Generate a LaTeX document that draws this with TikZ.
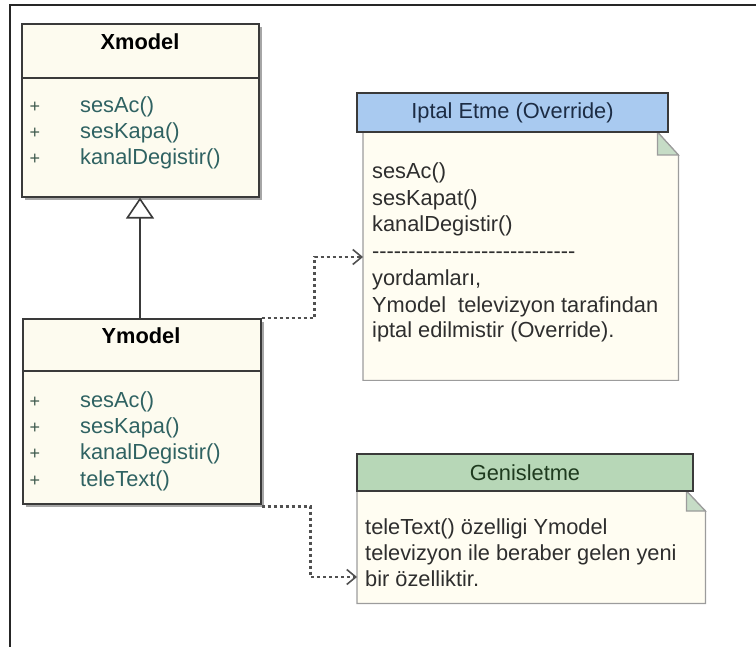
\documentclass[tikz,border=0pt]{standalone}
\usepackage{fontspec}
\setmainfont{Liberation Sans}
\usetikzlibrary{arrows.meta,shadows}

\definecolor{boxfill}{HTML}{FDFBEF}
\definecolor{boxline}{HTML}{3A3A3A}
\definecolor{membtext}{HTML}{2F6262}
\definecolor{plustext}{HTML}{3E5A4E}
\definecolor{notefill}{HTML}{FFFDF2}
\definecolor{noteline}{HTML}{9C9C9C}
\definecolor{notetext}{HTML}{2E2E2E}
\definecolor{bluehead}{HTML}{A9CAF0}
\definecolor{bluetext}{HTML}{1C2C44}
\definecolor{greenhead}{HTML}{B7D7B7}
\definecolor{greentext}{HTML}{1E3A1E}
\definecolor{foldfill}{HTML}{C6DCC6}
\definecolor{depline}{HTML}{505050}

% row of plain hyphens (kerns keep them from joining into dashes)
\newcommand\hyphenrow{\foreach\k in {1,...,28}{-\kern0pt}}

\begin{document}
\begin{tikzpicture}[x=1pt,y=-1pt,
  every node/.style={font=\fontsize{21.8}{26}\selectfont, inner sep=0pt},
  classbox/.style={rectangle, draw=boxline, line width=1.6pt, fill=boxfill,
    anchor=north west,
    drop shadow={shadow xshift=3pt,shadow yshift=-3pt,fill=black!35,opacity=1}},
  classtitle/.style={anchor=base, font=\fontsize{21.8}{26}\selectfont\bfseries},
  plus/.style={anchor=base, text=plustext, font=\fontsize{18}{26}\selectfont},
  member/.style={anchor=base west, text=membtext},
  notearea/.style={rectangle, anchor=north west},
  notebody/.style={draw=noteline, line width=1.2pt, fill=notefill},
  notefold/.style={draw=noteline, line width=1.2pt, fill=foldfill},
  notehead/.style={rectangle, draw=boxline, line width=1.6pt},
  notetxt/.style={anchor=base west, text=notetext},
  dep/.style={draw=depline, line width=2.4pt, dash pattern=on 3pt off 3pt,
    -{Straight Barb[length=9pt,width=15pt,line width=1.6pt]}},
  gen/.style={draw=boxline, line width=1.6pt,
    -{Triangle[open,length=21pt,width=28pt,line width=1.6pt]}}
]
\useasboundingbox (0,0) rectangle (756,647);

% outer frame (top and left edges)
\draw[line width=2.2pt, black!85] (756,5) -- (10,5) -- (10,647);

% ---- class Xmodel ----
\node[classbox, minimum width=237pt, minimum height=173pt] (xmodel) at (21,23) {};
\draw[boxline, line width=1.6pt] (xmodel.west |- 0,78) -- (xmodel.east |- 0,78);
\node[classtitle] (xtitle) at (140,50) {Xmodel};
\foreach \t [count=\i] in {sesAc(), sesKapa(), kanalDegistir()} {
  \node[plus] (xp\i) at (35,{113+26*(\i-1)}) {+};
  \node[member] (xm\i) at (80,{113+26*(\i-1)}) {\t};
}

% ---- class Ymodel ----
\node[classbox, minimum width=238pt, minimum height=185pt] (ymodel) at (22,318) {};
\draw[boxline, line width=1.6pt] (ymodel.west |- 0,371) -- (ymodel.east |- 0,371);
\node[classtitle] (ytitle) at (141,344) {Ymodel};
\foreach \t [count=\i] in {sesAc(), sesKapa(), kanalDegistir(), teleText()} {
  \node[plus] (yp\i) at (35,{408+26*(\i-1)}) {+};
  \node[member] (ym\i) at (80,{408+26*(\i-1)}) {\t};
}

% generalization Ymodel -> Xmodel
\draw[gen] (ymodel.north -| 140,0) -- (xmodel.south -| 140,0);

% ---- note: Iptal Etme (Override) ----
\node[notearea, minimum width=315pt, minimum height=248pt] (iptal) at (363,132) {};
\draw[notebody] (iptal.north west) -- ([xshift=-21pt]iptal.north east)
  -- ([yshift=-23pt]iptal.north east) -- (iptal.south east)
  -- (iptal.south west) -- cycle;
\draw[notefold] ([xshift=-21pt]iptal.north east)
  -- ([xshift=-21pt,yshift=-23pt]iptal.north east)
  -- ([yshift=-23pt]iptal.north east) -- cycle;
\node[notehead, fill=bluehead, text=bluetext, minimum width=311pt, minimum height=39pt]
  (iptalhead) at (512.5,112.5) {Iptal Etme (Override)};
\node[notetxt] (i1) at (372,179) {sesAc()};
\node[notetxt] (i2) at (372,205.5) {sesKapat()};
\node[notetxt] (i3) at (372,232) {kanalDegistir()};
\node[notetxt] (i4) at (372,259) {\hyphenrow};
\node[notetxt] (i5) at (372,286) {yordamları,};
\node[notetxt] (i6) at (372,312.5) {Ymodel\ \ televizyon tarafindan};
\node[notetxt] (i7) at (372,338) {iptal edilmistir (Override).};

% ---- note: Genisletme ----
\node[notearea, minimum width=348pt, minimum height=112pt] (genis) at (357,491) {};
\draw[notebody] (genis.north west) -- ([xshift=-19pt]genis.north east)
  -- ([yshift=-20pt]genis.north east) -- (genis.south east)
  -- (genis.south west) -- cycle;
\draw[notefold] ([xshift=-19pt]genis.north east)
  -- ([xshift=-19pt,yshift=-20pt]genis.north east)
  -- ([yshift=-20pt]genis.north east) -- cycle;
\node[notehead, fill=greenhead, text=greentext, minimum width=336pt, minimum height=37pt]
  (genishead) at (525,472.5) {Genisletme};
\node[notetxt] (g1) at (365,534) {teleText() özelligi Ymodel};
\node[notetxt] (g2) at (365,560) {televizyon ile beraber gelen yeni};
\node[notetxt] (g3) at (365,586) {bir özelliktir.};

% ---- note links ----
\draw[dep] (ymodel.north east) -- ++(53,0) |- (iptal.west |- 0,257);
\draw[dep] ([yshift=-2pt]ymodel.south east) -- ++(49,0) |- (genis.west |- 0,577);
\end{tikzpicture}
\end{document}
